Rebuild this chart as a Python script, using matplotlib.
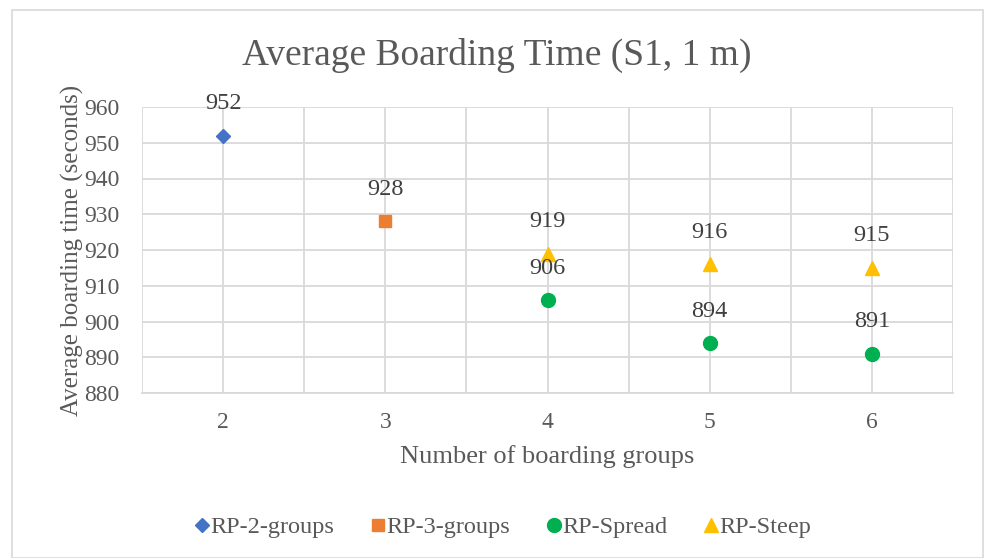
import matplotlib
matplotlib.use('Agg')
import numpy as np
import matplotlib.pyplot as plt
from matplotlib.patches import Rectangle

# series: number of boarding groups -> average boarding time (s)
groups_2 = [2]
time_2 = [952]
groups_3 = [3]
time_3 = [928]
groups_spread = [4, 5, 6]
time_spread = [906, 894, 891]
groups_steep = [4, 5, 6]
time_steep = [919, 916, 915]

names = ['RP-2-groups', 'RP-3-groups', 'RP-Spread', 'RP-Steep']
colors = ['#4472C4', '#ED7D31', '#00B050', '#FFC000']
markers = ['D', 's', 'o', '^']
sizes = [7.5, 8.5, 10, 10]

txt = '#595959'
grid = '#D9D9D9'
plt.rcParams['font.family'] = ['Liberation Serif', 'DejaVu Serif']

fig = plt.figure(figsize=(9.85, 5.58), dpi=100)
ax = fig.add_axes([142/985, 1-393/558, (953-142)/985, (393-107)/558])

# outer chart border
fig.patches.append(Rectangle((12/985, 0), 971/985, 1-10/558, transform=fig.transFigure,
                             fill=False, edgecolor='#D9D9D9', linewidth=1.2))

series = [(groups_2, time_2), (groups_3, time_3),
          (groups_spread, time_spread), (groups_steep, time_steep)]
for (x, y), name, c, m, s in zip(series, names, colors, markers, sizes):
    ax.plot(x, y, linestyle='none', marker=m, markersize=s, color=c,
            markeredgecolor=c, label=name, zorder=3)
    for xi, yi in zip(x, y):
        ax.annotate(str(yi), (xi, yi), xytext=(0, 23), textcoords='offset points',
                    ha='center', va='center', fontsize=17.5, color='#404040', zorder=4)

ax.set_xlim(1.5, 6.5)
ax.set_ylim(880, 960)
ax.set_xticks(np.arange(1.5, 6.51, 0.5), minor=True)
ax.set_xticks([2, 3, 4, 5, 6])
ax.set_yticks(np.arange(880, 961, 10))
ax.grid(True, which='both', color=grid, linewidth=1.3, zorder=0)
ax.set_axisbelow(True)
ax.tick_params(which='both', length=0, labelsize=17, labelcolor=txt)
ax.tick_params(axis='x', pad=14)
ax.tick_params(axis='y', pad=16)
for sp in ['top', 'right', 'left']:
    ax.spines[sp].set_visible(False)
ax.spines['bottom'].set_color(grid)
ax.spines['bottom'].set_linewidth(1.3)

ax.set_xlabel('Number of boarding groups', fontsize=19, color=txt, labelpad=8)
ax.set_ylabel('Average boarding time (seconds)', fontsize=18, color=txt, labelpad=0)
fig.text(497/985, 1-55/558, 'Average Boarding Time (S1, 1 m)', ha='center', va='center',
         fontsize=27, color=txt)

leg = fig.legend(loc='center', bbox_to_anchor=(503/985, 1-527/558), ncol=4, frameon=False,
                 fontsize=17.5, handletextpad=0.05, columnspacing=1.5, handlelength=0.6)
for t in leg.get_texts():
    t.set_color(txt)

fig.savefig('out.png', dpi=100)
